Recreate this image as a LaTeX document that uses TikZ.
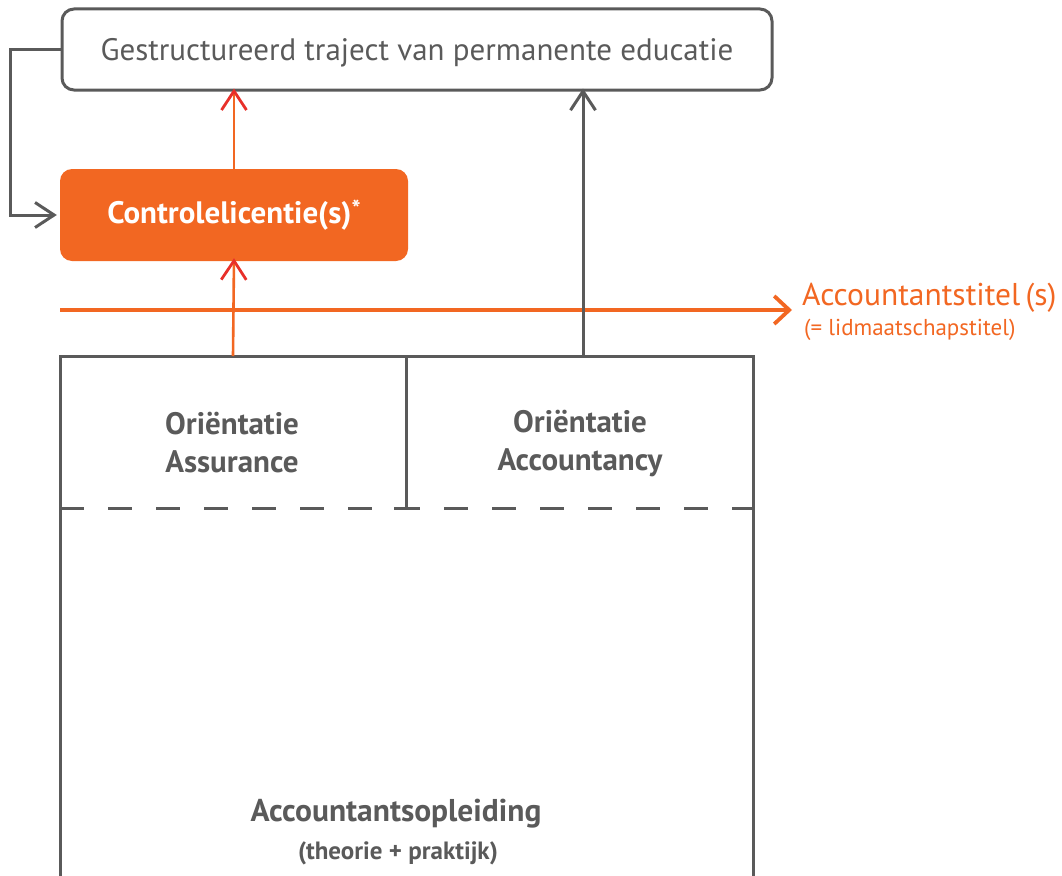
\documentclass[tikz,border=0pt]{standalone}
\usepackage{fontspec}
\setmainfont{PT Sans}
\usetikzlibrary{arrows.meta}
\definecolor{ink}{HTML}{5A5A5A}
\definecolor{brand}{HTML}{F26722}
\definecolor{tipred}{HTML}{E8302A}
\tikzset{
  line/.style={draw=ink, line width=3pt},
  graytip/.style={-{Straight Barb[length=19pt,width=25pt,line width=3pt]}},
  redarrow/.style={draw=brand, line width=2.6pt,
    -{Straight Barb[length=19pt,width=25pt,line width=2.8pt,color=tipred]}},
  lbl/.style={text=ink, font=\bfseries\fontsize{31}{38}\selectfont, align=center, inner sep=0pt},
}
\begin{document}
\begin{tikzpicture}[x=1pt,y=-1pt]
\useasboundingbox (0,0) rectangle (1062,875);
\clip (0,0) rectangle (1062,875);

% top box: permanent education
\node (pe) [line, rounded corners=12pt, minimum width=710pt, minimum height=81pt,
  text height=23pt, text depth=1pt,
  text=ink, font=\fontsize{31}{34}\selectfont] at (417,49.5)
  {Gestructureerd traject van permanente educatie};

% audit licence box
\node (cl) [fill=brand, rounded corners=12pt, minimum width=348pt, minimum height=92pt,
  text=white, font=\bfseries\fontsize{31}{34}\selectfont] at (234,215)
  {Controlelicentie(s)\raisebox{6pt}{\fontsize{24}{24}\selectfont*}};

% education block
\draw[line] (60,356) rectangle (753,880);
\coordinate (top-assur) at (233,356);
\coordinate (top-acc) at (583,356);
\draw[line] (406,356) -- (406,508);
\draw[line] (394,508) -- (418,508);
\draw[line, dash pattern=on 24pt off 24pt] (60,508) -- (753,508);

\node[lbl] (oa) at (232,443) {Oriëntatie\\Assurance};
\node[lbl] (oc) at (580,443) {Oriëntatie\\Accountancy};
\node[lbl, font=\bfseries\fontsize{31.5}{38}\selectfont] (ao) at (396,814) {Accountantsopleiding};
\node[lbl, font=\bfseries\fontsize{25}{28}\selectfont] (tp) at (398,853) {(theorie + praktijk)};

% title line
\coordinate (t0) at (60,310);
\coordinate (t1) at (792,310);
\draw[draw=brand, line width=3.6pt,
  -{Straight Barb[length=15pt,width=28pt,line width=3.8pt]}] (t0) -- (t1);
\node[anchor=west, text=brand, font=\fontsize{31.5}{34}\selectfont, inner sep=0pt] (at) at (802,298)
  {Accountantstitel\,(s)};
\node[anchor=west, text=brand, font=\fontsize{23}{26}\selectfont, inner sep=0pt] (lt) at (804,330)
  {(= lidmaatschapstitel)};

% connectors
\draw[redarrow] (top-assur) -- ([yshift=3pt]cl.south);
\draw[redarrow] (cl.north) -- ([yshift=3pt]pe.south -| cl.north);
\draw[line, graytip] (top-acc) -- ([yshift=3pt]pe.south -| top-acc);
\draw[line, graytip] (pe.west) -- ++(-50,0) |- ([xshift=-3pt]cl.west);
\end{tikzpicture}
\end{document}
